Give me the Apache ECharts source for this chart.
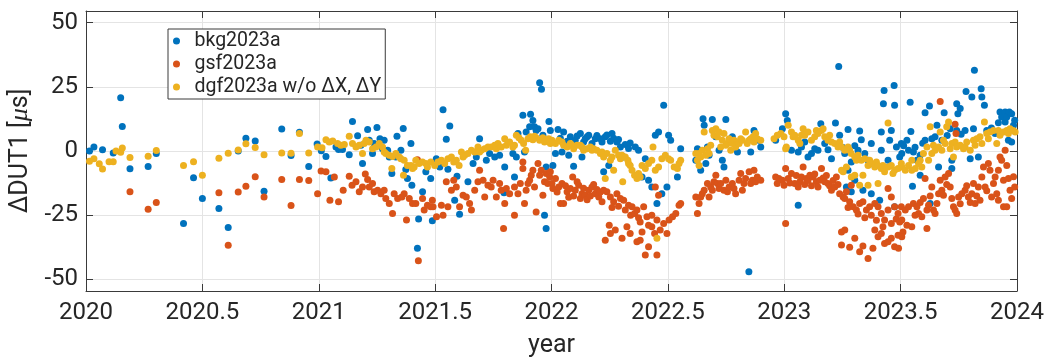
<!DOCTYPE html>
<html>
<head>
<meta charset="utf-8">
<script src="https://cdn.jsdelivr.net/npm/echarts@6/dist/echarts.min.js"></script>
<style>
html,body{margin:0;padding:0;background:#fff;}
#chart{width:1047px;height:360px;}
</style>
</head>
<body>
<div id="chart"></div>
<script>
// ---- data: [year, ΔDUT1 in µs] ----
const seriesNames = ['bkg2023a', 'gsf2023a', 'dgf2023a w/o ΔX, ΔY'];
const xTicks = [2020, 2020.5, 2021, 2021.5, 2022, 2022.5, 2023, 2023.5, 2024];
const yTicks = [-50, -25, 0, 25, 50];

const bkg2020 = [[2020.015,0.0],[2020.034,1.6],[2020.071,0.5],[2020.117,-0.8],[2020.149,20.7],[2020.156,9.5],[2020.189,-6.9],[2020.267,-6.0],[2020.302,-1.0],[2020.419,-28.2],[2020.462,-10.4],[2020.500,-18.5],[2020.571,-22.4],[2020.611,-29.8],[2020.654,0.0],[2020.687,5.0],[2020.727,3.9],[2020.765,-15.7],[2020.841,8.6],[2020.881,-1.8],[2020.917,7.3],[2020.957,-6.0],[2020.993,2.7]];
const bkg2021a = [[2021.011,0.1],[2021.031,-2.1],[2021.052,-10.5],[2021.074,1.6],[2021.085,0.6],[2021.102,0.6],[2021.131,-1.5],[2021.145,11.5],[2021.167,5.9],[2021.181,2.2],[2021.188,-4.9],[2021.210,8.4],[2021.217,4.2],[2021.231,-1.0],[2021.238,2.9],[2021.250,9.1],[2021.263,4.8],[2021.274,0.9],[2021.281,4.2],[2021.296,0.3],[2021.303,-2.3],[2021.314,-8.8],[2021.331,-2.3],[2021.336,5.7],[2021.353,0.3],[2021.363,8.8],[2021.374,-7.2],[2021.381,-10.7],[2021.396,2.9],[2021.400,-13.3],[2021.424,-37.9],[2021.429,-26.5],[2021.446,-15.9],[2021.460,-8.1],[2021.481,-10.7],[2021.488,-27.2]];
const bkg2021b = [[2021.505,-3.0],[2021.520,-6.2],[2021.534,16.1],[2021.548,4.6],[2021.555,-7.1],[2021.563,9.7],[2021.584,-19.2],[2021.594,-9.8],[2021.605,-24.6],[2021.641,-12.0],[2021.663,-4.9],[2021.677,-2.3],[2021.691,4.8],[2021.720,-3.6],[2021.734,-1.0],[2021.756,-2.3],[2021.777,-1.7],[2021.796,-16.3],[2021.799,-6.2],[2021.834,-1.0],[2021.841,-10.1],[2021.849,-2.3],[2021.856,6.8],[2021.877,13.9],[2021.884,-0.4],[2021.891,7.4],[2021.906,9.4],[2021.910,14.3],[2021.920,11.9],[2021.927,9.4],[2021.934,8.0],[2021.942,8.7],[2021.949,26.6],[2021.957,24.0],[2021.963,6.1],[2021.970,-25.0],[2021.977,-6.2],[2021.977,-30.2],[2021.989,11.5],[2021.995,8.0]];
const bkg2022a = [[2022.006,-5.6],[2022.017,-1.0],[2022.028,8.4],[2022.038,5.0],[2022.045,-0.4],[2022.052,7.4],[2022.067,3.8],[2022.074,-1.7],[2022.081,5.5],[2022.095,-5.9],[2022.102,4.2],[2022.110,5.8],[2022.124,6.8],[2022.131,-2.3],[2022.138,3.5],[2022.145,4.8],[2022.153,5.5],[2022.160,6.1],[2022.174,2.9],[2022.188,4.8],[2022.195,6.0],[2022.210,4.8],[2022.217,3.5],[2022.224,-8.1],[2022.231,5.5],[2022.238,6.2],[2022.246,-5.6],[2022.253,3.8],[2022.260,6.8],[2022.267,5.0],[2022.281,3.5],[2022.288,4.5],[2022.296,1.6],[2022.310,-2.3],[2022.317,2.5],[2022.331,1.0],[2022.338,3.1],[2022.360,1.6],[2022.374,0.3],[2022.389,-10.1],[2022.403,-3.0],[2022.417,-11.4],[2022.431,-14.0],[2022.446,6.1],[2022.453,-20.4],[2022.460,7.4],[2022.474,-16.6],[2022.482,17.8],[2022.496,-14.0],[2022.503,6.1]];
const bkg2022b = [[2022.512,4.2],[2022.541,-10.1],[2022.555,0.9],[2022.620,-3.6],[2022.627,0.9],[2022.634,0.3],[2022.641,-7.5],[2022.651,12.6],[2022.656,10.0],[2022.663,-4.9],[2022.670,1.6],[2022.677,-1.7],[2022.691,12.3],[2022.706,5.5],[2022.720,0.3],[2022.734,-3.6],[2022.741,-6.2],[2022.749,12.3],[2022.777,5.5],[2022.799,-0.4],[2022.848,-47.0],[2022.856,-0.4],[2022.870,8.0],[2022.891,4.2],[2022.899,1.6],[2022.963,4.2],[2022.992,8.7],[2023.006,14.5],[2023.013,11.9]];
const bkg2023a = [[2023.031,0.3],[2023.060,-0.4],[2023.060,-21.1],[2023.074,1.6],[2023.088,3.5],[2023.102,-2.3],[2023.117,-1.0],[2023.131,0.9],[2023.145,0.3],[2023.157,10.6],[2023.174,2.9],[2023.188,0.5],[2023.203,-3.0],[2023.220,10.9],[2023.234,32.9],[2023.238,6.1],[2023.250,1.5],[2023.260,-1.0],[2023.267,-14.0],[2023.274,8.4],[2023.274,-7.5],[2023.288,-4.3],[2023.288,-15.9],[2023.303,2.0],[2023.303,-11.4],[2023.317,0.3],[2023.324,7.8],[2023.331,4.4],[2023.338,-15.3],[2023.346,-1.0],[2023.360,-3.6],[2023.374,2.9],[2023.374,-16.6],[2023.389,-5.6],[2023.410,-19.2],[2023.417,7.4],[2023.417,0.3],[2023.426,18.4],[2023.429,23.6],[2023.446,-3.6],[2023.453,4.2],[2023.460,8.0],[2023.472,25.5],[2023.474,17.8],[2023.474,-21.7],[2023.482,1.6],[2023.496,-2.3],[2023.503,2.9]];
const bkg2023b = [[2023.505,-1.0],[2023.513,2.0],[2023.527,4.2],[2023.534,0.3],[2023.541,19.0],[2023.544,7.6],[2023.551,-13.7],[2023.555,-0.4],[2023.562,1.5],[2023.570,-3.6],[2023.584,-1.7],[2023.584,-9.4],[2023.595,3.0],[2023.605,14.9],[2023.605,4.2],[2023.624,17.5],[2023.627,-20.4],[2023.634,4.8],[2023.648,5.5],[2023.656,10.0],[2023.663,-6.2],[2023.677,4.2],[2023.687,14.9],[2023.700,6.0],[2023.713,8.7],[2023.720,-3.6],[2023.720,-6.8],[2023.741,18.4],[2023.741,8.0],[2023.746,14.5],[2023.756,16.5],[2023.760,6.5],[2023.777,8.0],[2023.781,23.2],[2023.799,-3.0],[2023.806,21.0],[2023.813,8.7],[2023.817,31.4],[2023.834,-2.3],[2023.846,24.2],[2023.849,21.0],[2023.860,17.8],[2023.870,8.0],[2023.890,9.0],[2023.906,6.8],[2023.920,11.0],[2023.927,15.2],[2023.934,13.2],[2023.949,15.2],[2023.949,11.3],[2023.956,13.2],[2023.963,4.2],[2023.967,15.2],[2023.977,14.5],[2023.977,3.5],[2023.985,10.0],[2023.990,12.0]];

const gsf2020 = [[2020.189,-15.9],[2020.267,-22.7],[2020.302,-20.0],[2020.571,-16.3],[2020.611,-36.7],[2020.654,-16.0],[2020.687,-13.7],[2020.727,-10.0],[2020.765,-17.9],[2020.841,-11.1],[2020.881,-21.2],[2020.917,-11.1],[2020.957,-11.5],[2020.995,-16.6]];
const gsf2021a = [[2021.010,-7.8],[2021.031,-8.1],[2021.048,-19.2],[2021.067,-10.1],[2021.085,-19.8],[2021.105,-15.3],[2021.131,-9.8],[2021.143,-13.3],[2021.160,-12.0],[2021.174,-15.9],[2021.188,-14.0],[2021.200,-9.0],[2021.210,-11.1],[2021.217,-14.0],[2021.231,-12.7],[2021.238,-15.9],[2021.253,-15.3],[2021.267,-16.6],[2021.281,-15.3],[2021.288,-18.5],[2021.303,-20.4],[2021.317,-24.3],[2021.324,-16.6],[2021.339,-18.5],[2021.357,-17.9],[2021.367,-16.6],[2021.377,-26.9],[2021.389,-18.5],[2021.403,-20.4],[2021.417,-20.4],[2021.424,-3.4],[2021.428,-42.7],[2021.446,-18.5],[2021.453,-23.0],[2021.467,-21.1],[2021.481,-21.7],[2021.488,-19.2],[2021.506,-25.6]];
const gsf2021b = [[2021.491,-21.7],[2021.527,-21.1],[2021.534,-25.0],[2021.548,-12.0],[2021.555,-21.7],[2021.570,-15.3],[2021.580,-11.4],[2021.591,-14.0],[2021.605,-21.7],[2021.620,-17.2],[2021.634,-17.9],[2021.648,-20.4],[2021.656,-23.0],[2021.670,-15.3],[2021.684,-12.0],[2021.691,-7.5],[2021.706,-11.4],[2021.713,-17.9],[2021.727,-13.3],[2021.741,-14.0],[2021.749,-11.4],[2021.763,-17.9],[2021.777,-12.7],[2021.784,-15.3],[2021.794,-30.2],[2021.799,-20.4],[2021.806,-14.6],[2021.820,-16.6],[2021.841,-25.0],[2021.841,-14.0],[2021.856,-16.6],[2021.866,-12.7],[2021.877,-6.8],[2021.877,-4.3],[2021.884,-20.4],[2021.891,-15.3],[2021.899,-12.7],[2021.906,-11.4],[2021.913,-9.4],[2021.920,-7.5],[2021.927,-14.0],[2021.934,-23.7],[2021.942,-4.9],[2021.949,-9.4],[2021.956,-7.5],[2021.963,-17.2],[2021.970,-12.0],[2021.977,-8.8],[2021.984,-12.7],[2021.992,-10.1]];
const gsf2022a = [[2021.995,-8.1],[2022.002,-12.7],[2022.006,-14.6],[2022.017,-10.7],[2022.024,-16.0],[2022.031,-14.0],[2022.038,-20.4],[2022.045,-12.7],[2022.052,-20.4],[2022.060,-13.5],[2022.067,-15.9],[2022.074,-18.0],[2022.081,-14.6],[2022.091,-10.1],[2022.095,-17.5],[2022.102,-15.3],[2022.110,-12.0],[2022.117,-13.3],[2022.124,-18.5],[2022.131,-16.6],[2022.138,-14.5],[2022.145,-17.2],[2022.153,-19.0],[2022.160,-15.3],[2022.167,-17.5],[2022.174,-14.0],[2022.181,-13.0],[2022.188,-16.6],[2022.195,-15.0],[2022.203,-17.9],[2022.210,-16.0],[2022.217,-19.8],[2022.224,-15.3],[2022.231,-34.7],[2022.238,-15.9],[2022.248,-28.9],[2022.253,-32.1],[2022.253,-17.9],[2022.260,-22.0],[2022.267,-19.8],[2022.274,-30.8],[2022.281,-16.6],[2022.288,-21.5],[2022.296,-18.5],[2022.303,-34.0],[2022.310,-19.2],[2022.317,-23.0],[2022.324,-29.5],[2022.331,-21.1],[2022.338,-32.1],[2022.340,-25.0],[2022.346,-21.7],[2022.357,-24.3],[2022.367,-23.0],[2022.367,-35.3],[2022.374,-26.0],[2022.381,-27.6],[2022.381,-34.7],[2022.389,-31.5],[2022.396,-21.7],[2022.403,-40.5],[2022.410,-25.6],[2022.417,-37.3],[2022.417,-28.9],[2022.431,-29.5],[2022.431,-25.0],[2022.443,-32.1],[2022.446,-14.0],[2022.453,-26.9],[2022.453,-40.5],[2022.460,-17.2],[2022.467,-30.8],[2022.482,-28.2],[2022.496,-32.1]];
const gsf2022b = [[2022.505,-26.9],[2022.520,-25.6],[2022.534,-24.3],[2022.548,-21.1],[2022.555,-20.4],[2022.620,-17.9],[2022.627,-24.3],[2022.634,-20.4],[2022.641,-17.9],[2022.648,-16.6],[2022.656,-15.3],[2022.670,-12.7],[2022.677,-17.9],[2022.684,-14.0],[2022.691,-15.3],[2022.698,-12.0],[2022.706,-9.4],[2022.713,-12.7],[2022.720,-14.6],[2022.727,-12.7],[2022.741,-15.3],[2022.749,-11.4],[2022.756,-15.9],[2022.763,-14.0],[2022.777,-12.7],[2022.784,-14.6],[2022.791,-16.6],[2022.806,-11.4],[2022.813,-8.8],[2022.820,-15.3],[2022.827,-12.7],[2022.834,-10.7],[2022.849,-8.1],[2022.856,-12.7],[2022.863,-11.4],[2022.870,-7.5],[2022.877,-12.0],[2022.884,-10.1],[2022.899,-11.4],[2022.963,-10.1],[2022.970,-12.7],[2022.977,-10.7],[2022.992,-11.4],[2022.999,-13.3],[2023.006,-6.8],[2023.006,-28.2]];
const gsf2023a = [[2023.017,-10.7],[2023.024,-12.5],[2023.031,-8.8],[2023.045,-12.7],[2023.052,-9.5],[2023.060,-14.0],[2023.067,-12.0],[2023.074,-10.1],[2023.081,-6.2],[2023.088,-13.0],[2023.095,-10.7],[2023.102,-11.5],[2023.110,-9.4],[2023.117,-13.5],[2023.124,-10.1],[2023.131,-9.0],[2023.138,-12.0],[2023.145,-14.0],[2023.153,-11.4],[2023.160,-6.8],[2023.167,-10.5],[2023.174,-12.0],[2023.181,-9.5],[2023.188,-12.7],[2023.195,-13.5],[2023.203,-15.3],[2023.210,-11.5],[2023.217,-14.0],[2023.224,-10.1],[2023.231,-13.0],[2023.238,-16.6],[2023.246,-31.5],[2023.246,-36.6],[2023.253,-17.9],[2023.260,-30.8],[2023.260,-18.5],[2023.267,-15.9],[2023.274,-22.0],[2023.281,-19.8],[2023.281,-37.5],[2023.288,-13.3],[2023.296,-21.7],[2023.303,-34.0],[2023.310,-23.0],[2023.317,-24.5],[2023.324,-20.4],[2023.324,-39.2],[2023.338,-19.8],[2023.338,-37.0],[2023.346,-26.0],[2023.353,-23.0],[2023.360,-41.8],[2023.367,-21.7],[2023.374,-25.0],[2023.381,-37.9],[2023.389,-20.4],[2023.389,-30.8],[2023.396,-27.0],[2023.403,-21.7],[2023.403,-33.4],[2023.417,-24.3],[2023.417,-32.1],[2023.424,-29.5],[2023.431,-26.9],[2023.431,-36.0],[2023.446,-14.6],[2023.446,-23.0],[2023.446,-35.3],[2023.460,-17.9],[2023.460,-28.2],[2023.460,-34.0],[2023.474,-21.7],[2023.474,-37.3],[2023.481,-26.5],[2023.489,-24.3],[2023.489,-32.8],[2023.496,-27.6],[2023.503,-21.7],[2023.510,-31.5]];
const gsf2023b = [[2023.491,-37.9],[2023.505,-26.9],[2023.505,-33.4],[2023.520,-23.0],[2023.527,-28.9],[2023.534,-21.7],[2023.548,-29.5],[2023.555,-20.4],[2023.562,-25.0],[2023.570,-21.7],[2023.577,-24.3],[2023.584,-20.0],[2023.591,-25.6],[2023.598,-18.5],[2023.605,-10.7],[2023.613,-23.0],[2023.613,-30.2],[2023.620,-21.1],[2023.627,-17.5],[2023.634,-14.0],[2023.641,-23.0],[2023.648,-24.3],[2023.656,-20.4],[2023.663,-16.6],[2023.670,-11.4],[2023.670,19.3],[2023.677,-15.3],[2023.684,-17.2],[2023.691,-10.1],[2023.698,-13.0],[2023.706,-8.8],[2023.713,-14.0],[2023.720,-18.5],[2023.727,-21.7],[2023.734,10.4],[2023.738,6.8],[2023.734,-23.0],[2023.741,-24.3],[2023.749,-17.9],[2023.756,-20.5],[2023.763,-16.6],[2023.777,-15.3],[2023.784,-13.5],[2023.791,-17.9],[2023.799,-20.0],[2023.806,-16.6],[2023.813,-12.7],[2023.820,-20.4],[2023.827,-17.5],[2023.834,-14.0],[2023.841,-19.2],[2023.849,-10.1],[2023.856,-6.2],[2023.863,-14.0],[2023.870,-15.5],[2023.877,-4.9],[2023.884,-7.5],[2023.891,-17.9],[2023.899,-12.7],[2023.906,-10.1],[2023.913,-16.6],[2023.920,-7.5],[2023.920,-19.2],[2023.927,-2.3],[2023.934,-3.6],[2023.942,-11.4],[2023.942,-21.7],[2023.949,0.3],[2023.956,-5.6],[2023.956,-21.7],[2023.963,-10.7],[2023.970,-15.3],[2023.977,-18.5],[2023.985,-10.0],[2023.990,-14.0]];

const dgf2020 = [[2020.015,-4.0],[2020.034,-3.0],[2020.057,-5.0],[2020.071,-7.0],[2020.099,-4.2],[2020.117,-4.2],[2020.129,0.0],[2020.149,-0.5],[2020.156,1.2],[2020.189,-2.5],[2020.267,-2.0],[2020.302,0.2],[2020.419,-5.6],[2020.462,-4.2],[2020.500,-9.4],[2020.571,-2.8],[2020.611,-0.9],[2020.654,0.4],[2020.687,2.8],[2020.727,1.4],[2020.765,-1.5],[2020.841,-0.8],[2020.881,-0.9],[2020.917,6.8],[2020.957,-0.8]];
const dgf2021a = [[2020.995,1.6],[2021.014,1.3],[2021.031,4.4],[2021.045,3.5],[2021.060,3.9],[2021.081,2.9],[2021.095,2.2],[2021.110,2.5],[2021.131,5.7],[2021.145,2.9],[2021.160,1.6],[2021.174,2.2],[2021.188,-1.0],[2021.195,2.9],[2021.203,4.2],[2021.217,3.5],[2021.231,0.9],[2021.246,1.6],[2021.260,2.9],[2021.274,1.6],[2021.281,-0.4],[2021.288,-1.0],[2021.303,-1.7],[2021.314,-6.8],[2021.317,-2.1],[2021.331,-1.0],[2021.346,-2.3],[2021.353,-3.0],[2021.364,-9.4],[2021.367,-3.6],[2021.381,-5.6],[2021.396,-5.6],[2021.403,-6.8],[2021.410,-6.2],[2021.417,-3.6],[2021.431,-4.9],[2021.446,-4.3],[2021.460,-4.9],[2021.467,-6.2],[2021.481,-4.3]];
const dgf2021b = [[2021.498,-5.6],[2021.512,-4.3],[2021.527,-3.6],[2021.541,-4.9],[2021.555,-3.0],[2021.570,-2.3],[2021.580,-4.3],[2021.591,-3.6],[2021.603,-5.6],[2021.613,-0.4],[2021.620,-2.3],[2021.627,-1.7],[2021.641,-1.0],[2021.656,0.3],[2021.670,-0.4],[2021.684,1.6],[2021.691,-0.4],[2021.698,0.3],[2021.713,0.9],[2021.727,1.6],[2021.741,1.6],[2021.756,2.2],[2021.763,0.9],[2021.770,2.9],[2021.784,1.6],[2021.799,4.8],[2021.806,2.2],[2021.820,3.5],[2021.834,1.6],[2021.841,2.2],[2021.849,6.1],[2021.860,5.2],[2021.870,4.2],[2021.880,2.9],[2021.889,0.3],[2021.899,4.8],[2021.909,5.5],[2021.920,4.4],[2021.927,5.7],[2021.934,5.2],[2021.949,4.2],[2021.963,5.2],[2021.970,3.5],[2021.977,4.2]];
const dgf2022a = [[2021.988,4.8],[2021.995,2.9],[2022.002,4.2],[2022.017,2.9],[2022.031,4.2],[2022.045,3.5],[2022.052,2.2],[2022.067,1.6],[2022.081,2.9],[2022.088,2.2],[2022.095,0.9],[2022.110,2.2],[2022.124,2.2],[2022.131,1.6],[2022.138,0.3],[2022.153,0.9],[2022.167,1.6],[2022.174,0.3],[2022.181,0.9],[2022.195,0.3],[2022.210,-1.0],[2022.217,-0.4],[2022.224,-2.3],[2022.231,-10.7],[2022.238,-1.0],[2022.253,-3.6],[2022.260,-2.3],[2022.267,-7.5],[2022.274,0.3],[2022.288,-1.7],[2022.296,-3.0],[2022.303,-1.7],[2022.306,-12.0],[2022.317,-2.3],[2022.328,-3.6],[2022.331,-4.9],[2022.338,-5.6],[2022.346,-7.5],[2022.357,-9.4],[2022.367,-10.7],[2022.374,-8.8],[2022.381,-10.1],[2022.389,-5.6],[2022.403,-6.8],[2022.417,-4.9],[2022.431,-3.6],[2022.436,1.6],[2022.446,-7.5],[2022.453,-34.0],[2022.460,-6.2],[2022.474,-3.0],[2022.489,-1.7],[2022.503,-3.0]];
const dgf2022b = [[2022.512,-3.6],[2022.527,-6.2],[2022.541,-6.8],[2022.548,-4.9],[2022.555,-3.6],[2022.620,-1.0],[2022.627,-3.6],[2022.634,-5.6],[2022.634,-1.0],[2022.641,-2.3],[2022.648,0.3],[2022.656,7.4],[2022.663,-1.7],[2022.670,0.9],[2022.677,-1.0],[2022.684,2.2],[2022.691,8.0],[2022.698,6.1],[2022.706,8.7],[2022.713,5.5],[2022.720,7.4],[2022.727,1.6],[2022.734,4.2],[2022.741,6.8],[2022.749,2.2],[2022.756,2.9],[2022.763,4.8],[2022.770,0.3],[2022.777,2.9],[2022.784,4.2],[2022.791,1.6],[2022.799,3.5],[2022.806,2.9],[2022.813,4.8],[2022.820,4.2],[2022.834,7.4],[2022.841,2.9],[2022.849,4.2],[2022.856,4.8],[2022.866,5.5],[2022.870,3.5],[2022.877,6.8],[2022.884,4.8],[2022.899,4.2],[2022.956,4.8],[2022.970,6.1],[2022.985,6.8],[2022.999,5.5],[2023.006,0.9]];
const dgf2023a = [[2023.009,1.6],[2023.017,10.0],[2023.031,7.4],[2023.038,5.5],[2023.045,6.1],[2023.060,4.2],[2023.067,2.9],[2023.074,6.1],[2023.081,8.7],[2023.088,6.1],[2023.102,7.4],[2023.117,4.2],[2023.131,5.5],[2023.138,8.0],[2023.145,6.8],[2023.160,8.0],[2023.167,8.7],[2023.174,5.5],[2023.188,4.2],[2023.195,6.1],[2023.203,3.5],[2023.217,2.9],[2023.231,1.6],[2023.238,3.5],[2023.246,1.6],[2023.246,-7.5],[2023.253,-8.1],[2023.260,0.3],[2023.267,-6.2],[2023.274,1.6],[2023.281,0.3],[2023.288,-1.0],[2023.288,-10.1],[2023.303,-2.3],[2023.303,-9.4],[2023.310,-3.6],[2023.317,-1.7],[2023.324,-13.3],[2023.331,-3.6],[2023.338,-9.4],[2023.346,-3.0],[2023.360,-5.6],[2023.360,-13.3],[2023.367,-3.6],[2023.374,-4.9],[2023.389,-6.2],[2023.396,-4.3],[2023.403,-5.6],[2023.403,-12.7],[2023.417,-6.8],[2023.424,-5.6],[2023.431,-8.1],[2023.446,-6.2],[2023.446,10.9],[2023.460,-5.6],[2023.467,-8.8],[2023.474,-7.5],[2023.489,-6.8],[2023.503,-4.9]];
const dgf2023b = [[2023.505,-6.2],[2023.520,-7.5],[2023.534,-5.6],[2023.548,-7.5],[2023.548,-3.6],[2023.563,-6.8],[2023.577,-4.9],[2023.584,-3.6],[2023.591,-6.2],[2023.598,-1.0],[2023.613,1.6],[2023.620,-3.6],[2023.627,9.4],[2023.634,-1.0],[2023.641,2.2],[2023.648,0.3],[2023.663,1.6],[2023.670,7.4],[2023.677,0.3],[2023.684,4.2],[2023.691,2.9],[2023.698,9.4],[2023.706,11.3],[2023.713,0.9],[2023.720,2.9],[2023.727,-2.3],[2023.734,3.5],[2023.741,1.6],[2023.756,2.2],[2023.770,0.9],[2023.777,1.6],[2023.784,3.5],[2023.799,0.3],[2023.813,4.2],[2023.820,2.2],[2023.827,4.8],[2023.841,5.5],[2023.849,2.9],[2023.860,11.3],[2023.870,6.8],[2023.877,4.8],[2023.884,7.4],[2023.899,8.0],[2023.913,2.9],[2023.920,8.0],[2023.927,6.1],[2023.942,7.4],[2023.956,8.0],[2023.963,6.8],[2023.970,8.7],[2023.984,8.0],[2023.992,7.4]];

const bkg = [].concat(bkg2020, bkg2021a, bkg2021b, bkg2022a, bkg2022b, bkg2023a, bkg2023b);
const gsf = [].concat(gsf2020, gsf2021a, gsf2021b, gsf2022a, gsf2022b, gsf2023a, gsf2023b);
const dgf = [].concat(dgf2020, dgf2021a, dgf2021b, dgf2022a, dgf2022b, dgf2023a, dgf2023b);

const colors = ['#0072BD', '#D95319', '#EDB120'];
const txt = '#262626';
const axCol = '#3a3a3a';
const gridCol = '#e4e4e4';
const font = 'Roboto';

const chart = echarts.init(document.getElementById('chart'), null, {renderer: 'canvas'});

const baseX = {
  type: 'value', min: 2020, max: 2024, interval: 0.5,
  axisLine: {show: true, onZero: false, lineStyle: {color: axCol, width: 1}},
  axisTick: {show: true, inside: true, length: 7, lineStyle: {color: axCol, width: 1}},
};
const baseY = {
  type: 'value', min: -54.5, max: 54.5,
  axisLine: {show: true, onZero: false, lineStyle: {color: axCol, width: 1}},
  axisTick: {show: true, inside: true, length: 7, customValues: yTicks, lineStyle: {color: axCol, width: 1}},
};

chart.setOption({
  animation: false,
  backgroundColor: '#fff',
  color: colors,
  textStyle: {fontFamily: font},
  grid: {left: 86, right: 30, top: 11, bottom: 69, containLabel: false, outerBoundsMode: 'none'},
  legend: {
    data: seriesNames,
    orient: 'vertical',
    left: 168, top: 29,
    icon: 'circle',
    itemWidth: 26, itemHeight: 7,
    itemGap: 3,
    padding: [2, 4, 2, 5],
    borderColor: axCol, borderWidth: 1,
    backgroundColor: '#fff',
    textStyle: {fontSize: 19.5, color: txt, fontFamily: font, lineHeight: 20}
  },
  xAxis: [
    Object.assign({}, baseX, {
      position: 'bottom',
      axisLabel: {show: true, fontSize: 24, color: txt, margin: 10, fontFamily: font,
        customValues: xTicks, formatter: function (v) { return String(v); }},
      splitLine: {show: true, lineStyle: {color: gridCol, width: 1}},
      name: 'year', nameLocation: 'middle', nameGap: 42,
      nameTextStyle: {fontSize: 25, color: txt, fontFamily: font}
    }),
    Object.assign({}, baseX, {
      position: 'top',
      axisLabel: {show: false},
      splitLine: {show: false}
    })
  ],
  yAxis: [
    Object.assign({}, baseY, {
      position: 'left',
      axisLabel: {show: true, fontSize: 24, color: txt, margin: 8, fontFamily: font, customValues: yTicks,
        formatter: function (v) { return String(v); }},
      splitLine: {show: true, lineStyle: {color: gridCol, width: 1}},
      name: '{a|ΔDUT1 [}{b|μ}{a|s]}',
      nameLocation: 'middle', nameGap: 48, nameRotate: 90,
      nameTextStyle: {
        fontSize: 25, color: txt, fontFamily: font,
        rich: {
          a: {fontSize: 25, color: txt, fontFamily: font},
          b: {fontSize: 26, color: txt, fontFamily: 'Liberation Serif', fontStyle: 'italic'}
        }
      }
    }),
    Object.assign({}, baseY, {
      position: 'right',
      axisLabel: {show: false, customValues: yTicks},
      splitLine: {show: false}
    })
  ],
  series: [
    {name: seriesNames[0], type: 'scatter', data: bkg, symbol: 'circle', symbolSize: 7, itemStyle: {color: colors[0], opacity: 1}, z: 2},
    {name: seriesNames[1], type: 'scatter', data: gsf, symbol: 'circle', symbolSize: 7, itemStyle: {color: colors[1], opacity: 1}, z: 3},
    {name: seriesNames[2], type: 'scatter', data: dgf, symbol: 'circle', symbolSize: 7, itemStyle: {color: colors[2], opacity: 1}, z: 4}
  ]
});
</script>
</body>
</html>
